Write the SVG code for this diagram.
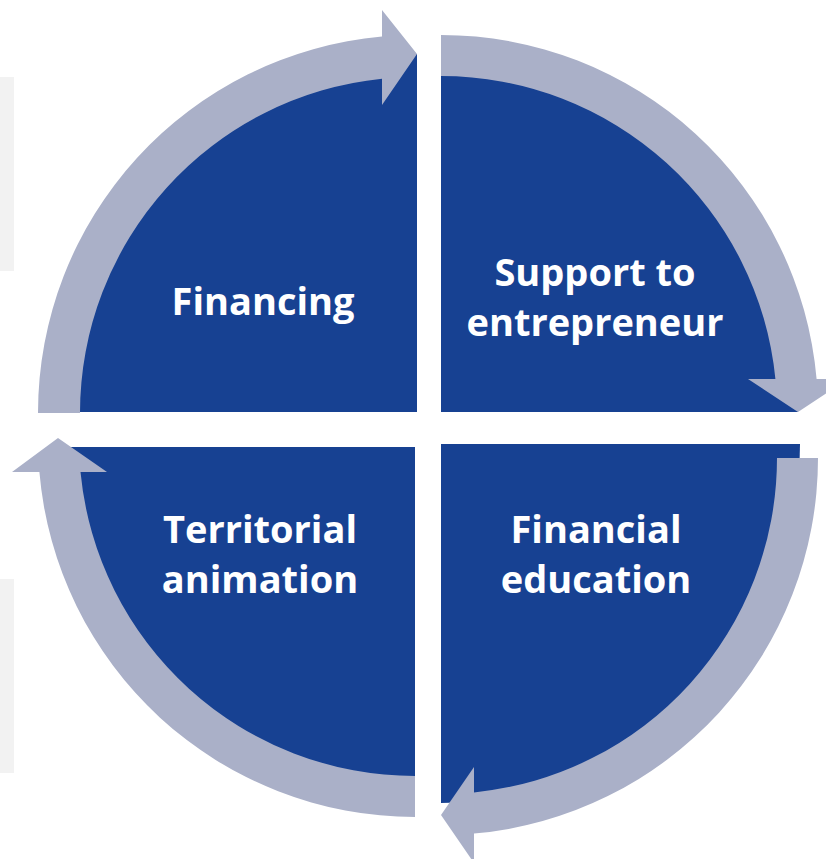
<svg xmlns="http://www.w3.org/2000/svg" width="826" height="859" viewBox="0 0 826 859">
  <style>
    .quad { fill: #174192; }
    .band { fill: #AAB0C8; }
    .side { fill: #F2F2F2; }
    .label { font-family: "Open Sans", "Liberation Sans", sans-serif; font-weight: 700; font-size: 38px; fill: #FFFFFF; text-anchor: middle; }
  </style>
  <rect width="826" height="859" fill="#FFFFFF"/>
  <rect class="side" x="0" y="77" width="14" height="194"/>
  <rect class="side" x="0" y="579" width="14" height="194"/>

  <g id="node-financing">
    <path class="quad" d="M417,412 L59,412 A358,358 0 0 1 417,54 Z"/>
    <text class="label" x="263" y="315">Financing</text>
  </g>
  <g id="node-support">
    <path class="quad" d="M441,412 L441,55 A357,357 0 0 1 798,412 Z"/>
    <text class="label" x="595" y="286">Support to</text>
    <text class="label" x="595" y="336">entrepreneur</text>
  </g>
  <g id="node-education">
    <path class="quad" d="M441,444 L800,444 A359,359 0 0 1 441,803 Z"/>
    <text class="label" x="596" y="543">Financial</text>
    <text class="label" x="596" y="593">education</text>
  </g>
  <g id="node-territorial">
    <path class="quad" d="M415,447 L415,805 A358,358 0 0 1 57,447 Z"/>
    <text class="label" x="260" y="543">Territorial</text>
    <text class="label" x="260" y="593">animation</text>
  </g>

  <g id="connectors">
    <path class="band" d="M38,413 A378,378 0 0 1 382,36.5 L382,10 L417,54 L382,105 L382,78.7 A336,336 0 0 0 80,413 Z"/>
    <path class="band" d="M441,35 A377,377 0 0 1 816.6,379 L848,379 L798,412 L748,379 L775.4,379 A336,336 0 0 0 441,76 Z"/>
    <path class="band" d="M818,458 A377,377 0 0 1 474,833.6 L474,863 L441,815 L474,767 L474,792.4 A336,336 0 0 0 777,458 Z"/>
    <path class="band" d="M415,817 A377,377 0 0 1 39.4,472 L12,472 L58,438 L107,472 L80.5,472 A336,336 0 0 0 415,776 Z"/>
  </g>
</svg>
